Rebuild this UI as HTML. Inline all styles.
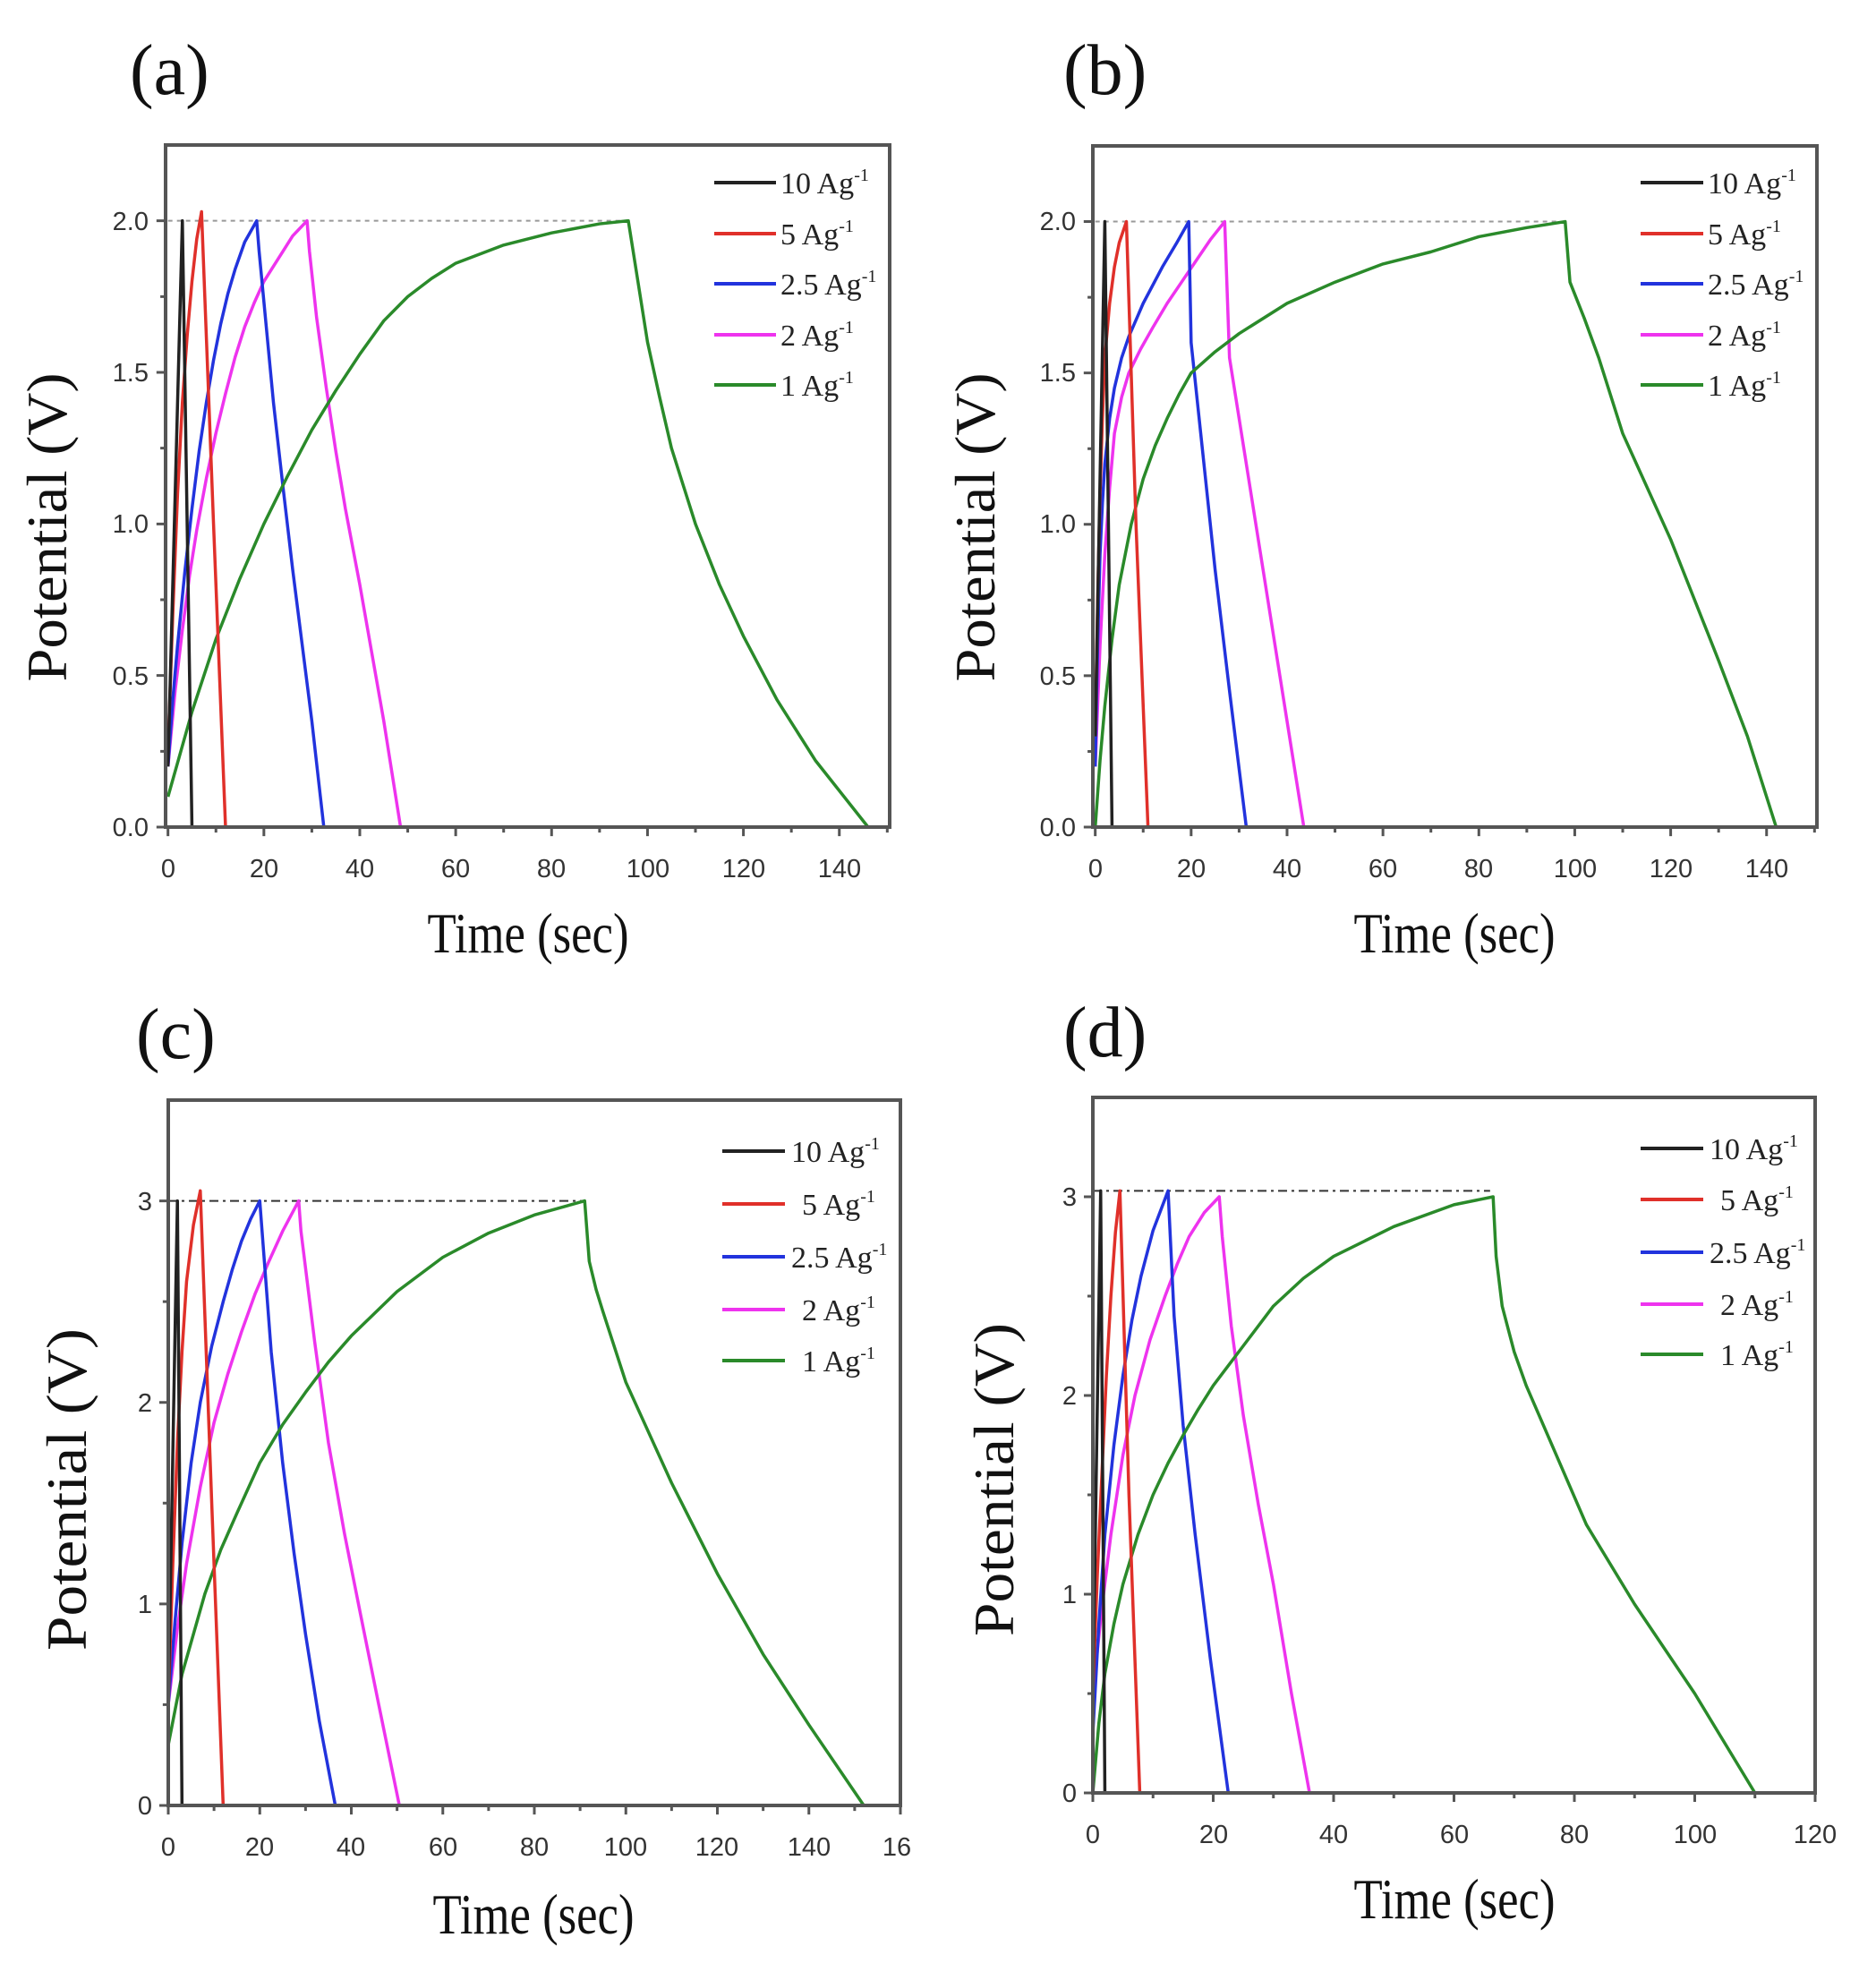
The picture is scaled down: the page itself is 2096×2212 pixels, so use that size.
<!DOCTYPE html>
<html><head><meta charset="utf-8"><style>
html,body{margin:0;padding:0;background:#fff}
svg{display:block}
.tk{font-family:"Liberation Sans",Arial,sans-serif;font-size:29px;fill:#333}
.lg{font-family:"Liberation Serif",serif;font-size:34px;fill:#222}
.sup{font-size:20px}
.ttl{font-family:"Liberation Serif",serif;font-size:64px;fill:#111}
.pl{font-family:"Liberation Serif",serif;font-size:80px;fill:#111}
.c{fill:none;stroke-width:3.5;vector-effect:non-scaling-stroke;stroke-linejoin:round}
.ax{fill:none;stroke:#555;stroke-width:3;vector-effect:non-scaling-stroke}
</style></head><body>
<svg width="2096" height="2212" viewBox="0 0 2096 2212" xmlns="http://www.w3.org/2000/svg">
<rect width="2096" height="2212" fill="#fff"/>

<text class="pl" x="145" y="105">(a)</text>
<text class="pl" x="1188" y="105">(b)</text>
<text class="pl" x="152" y="1182">(c)</text>
<text class="pl" x="1188" y="1180">(d)</text>

<!-- PANEL A -->
<svg x="185" y="162" width="809" height="762" viewBox="-0.5 -2.25 151 2.25" preserveAspectRatio="none" style="overflow:visible">
<path class="ax" d="M0 0 V0.03 M20 0 V0.03 M40 0 V0.03 M60 0 V0.03 M80 0 V0.03 M100 0 V0.03 M120 0 V0.03 M140 0 V0.03 M10 0 V0.018 M30 0 V0.018 M50 0 V0.018 M70 0 V0.018 M90 0 V0.018 M110 0 V0.018 M130 0 V0.018 M150 0 V0.018 M-0.5 0 H-2.4 M-0.5 -0.5 H-2.4 M-0.5 -1 H-2.4 M-0.5 -1.5 H-2.4 M-0.5 -2 H-2.4 M-0.5 -0.25 H-1.6 M-0.5 -0.75 H-1.6 M-0.5 -1.25 H-1.6 M-0.5 -1.75 H-1.6"/>
<path d="M0 -2 H97" fill="none" stroke="#999" stroke-width="2" stroke-dasharray="5 5" vector-effect="non-scaling-stroke"/>
<polyline class="c" stroke="#ee33ee" points="0,-0.2 1.5,-0.45 3,-0.65 4.5,-0.83 6,-0.98 8,-1.15 10,-1.3 12,-1.43 14,-1.55 16,-1.65 18,-1.73 20,-1.8 22,-1.85 24,-1.9 26,-1.95 29,-2 29.5,-1.9 31,-1.68 33,-1.45 35,-1.24 37,-1.05 40,-0.8 42,-0.62 45,-0.35 48.5,0"/>
<polyline class="c" stroke="#2233dd" points="0,-0.2 1,-0.42 2,-0.6 3.5,-0.84 5,-1.05 6.5,-1.24 8,-1.4 9.5,-1.54 11,-1.66 12.5,-1.76 14,-1.84 16,-1.93 18.5,-2 19,-1.9 20.5,-1.65 22,-1.4 24,-1.12 26,-0.85 28,-0.6 30,-0.35 32.5,0"/>
<polyline class="c" stroke="#2a8a2a" points="0,-0.1 5,-0.38 10,-0.62 15,-0.82 20,-1.0 25,-1.16 30,-1.31 35,-1.44 40,-1.56 45,-1.67 50,-1.75 55,-1.81 60,-1.86 70,-1.92 80,-1.96 90,-1.99 96,-2 97,-1.9 98,-1.8 100,-1.6 102.5,-1.42 105,-1.25 110,-1.0 115,-0.8 120,-0.63 127,-0.42 135,-0.22 146,0"/>
<polyline class="c" stroke="#e0302a" points="0,-0.25 1,-0.7 2,-1.1 3,-1.4 4,-1.62 5,-1.8 6,-1.94 7,-2.03 9.5,-1 12,0"/>
<polyline class="c" stroke="#222" points="0,-0.2 3,-2 5,0"/>
<rect x="-0.5" y="-2.25" width="151" height="2.25" class="ax" style="stroke-width:4"/>
</svg>
<g class="tk" text-anchor="middle">
<text x="188" y="980">0</text><text x="295" y="980">20</text><text x="402" y="980">40</text><text x="509" y="980">60</text><text x="616" y="980">80</text><text x="724" y="980">100</text><text x="831" y="980">120</text><text x="938" y="980">140</text>
</g>
<g class="tk" text-anchor="end">
<text x="166" y="934">0.0</text><text x="166" y="765">0.5</text><text x="166" y="595">1.0</text><text x="166" y="426">1.5</text><text x="166" y="257">2.0</text>
</g>
<g stroke-width="4">
<line x1="798" y1="204" x2="867" y2="204" stroke="#222"/>
<line x1="798" y1="261" x2="867" y2="261" stroke="#e0302a"/>
<line x1="798" y1="317" x2="867" y2="317" stroke="#2233dd"/>
<line x1="798" y1="374" x2="867" y2="374" stroke="#ee33ee"/>
<line x1="798" y1="430" x2="867" y2="430" stroke="#2a8a2a"/>
</g>
<g class="lg">
<text x="872" y="216">10 Ag<tspan class="sup" dy="-14">-1</tspan></text>
<text x="872" y="273">5 Ag<tspan class="sup" dy="-14">-1</tspan></text>
<text x="872" y="329">2.5 Ag<tspan class="sup" dy="-14">-1</tspan></text>
<text x="872" y="386">2 Ag<tspan class="sup" dy="-14">-1</tspan></text>
<text x="872" y="442">1 Ag<tspan class="sup" dy="-14">-1</tspan></text>
</g>
<text class="ttl" x="590" y="1064" text-anchor="middle" textLength="225" lengthAdjust="spacingAndGlyphs">Time (sec)</text>
<text class="ttl" transform="translate(74,589) rotate(-90)" text-anchor="middle" textLength="345" lengthAdjust="spacingAndGlyphs">Potential (V)</text>

<!-- PANEL B -->
<svg x="1221" y="163" width="809" height="761" viewBox="-0.5 -2.25 151 2.25" preserveAspectRatio="none" style="overflow:visible">
<path class="ax" d="M0 0 V0.03 M20 0 V0.03 M40 0 V0.03 M60 0 V0.03 M80 0 V0.03 M100 0 V0.03 M120 0 V0.03 M140 0 V0.03 M10 0 V0.018 M30 0 V0.018 M50 0 V0.018 M70 0 V0.018 M90 0 V0.018 M110 0 V0.018 M130 0 V0.018 M150 0 V0.018 M-0.5 0 H-2.4 M-0.5 -0.5 H-2.4 M-0.5 -1 H-2.4 M-0.5 -1.5 H-2.4 M-0.5 -2 H-2.4 M-0.5 -0.25 H-1.6 M-0.5 -0.75 H-1.6 M-0.5 -1.25 H-1.6 M-0.5 -1.75 H-1.6"/>
<path d="M0 -2 H98" fill="none" stroke="#999" stroke-width="2" stroke-dasharray="5 5" vector-effect="non-scaling-stroke"/>
<polyline class="c" stroke="#ee33ee" points="0,-0.2 1,-0.6 2,-0.9 3,-1.12 4,-1.3 5.5,-1.42 7,-1.5 9.5,-1.58 12,-1.65 15,-1.73 18,-1.8 21,-1.87 24,-1.94 27,-2 28,-1.55 31,-1.25 35,-0.85 39,-0.45 43.5,0"/>
<polyline class="c" stroke="#2233dd" points="0,-0.2 0.5,-0.6 1,-0.9 1.5,-1.07 2,-1.2 3,-1.35 4,-1.45 5.5,-1.55 7,-1.62 10,-1.73 14,-1.85 17,-1.93 19.5,-2 20,-1.6 22,-1.3 25,-0.85 28,-0.45 31.5,0"/>
<polyline class="c" stroke="#2a8a2a" points="0,0 1,-0.22 2,-0.4 3.5,-0.62 5,-0.8 7.5,-1.0 10,-1.15 12.5,-1.26 15,-1.35 17.5,-1.43 20,-1.5 25,-1.57 30,-1.63 40,-1.73 50,-1.8 60,-1.86 70,-1.9 80,-1.95 90,-1.98 98,-2 99,-1.8 102,-1.68 105,-1.55 110,-1.3 120,-0.95 130,-0.55 136,-0.3 142,0"/>
<polyline class="c" stroke="#e0302a" points="0,-0.3 0.5,-0.75 1,-1.1 1.5,-1.35 2,-1.55 3,-1.73 4,-1.85 5,-1.93 6.5,-2 8.5,-1 11,0"/>
<polyline class="c" stroke="#222" points="0,-0.3 2,-2 3.5,0"/>
<rect x="-0.5" y="-2.25" width="151" height="2.25" class="ax" style="stroke-width:4"/>
</svg>
<g class="tk" text-anchor="middle">
<text x="1224" y="980">0</text><text x="1331" y="980">20</text><text x="1438" y="980">40</text><text x="1545" y="980">60</text><text x="1652" y="980">80</text><text x="1760" y="980">100</text><text x="1867" y="980">120</text><text x="1974" y="980">140</text>
</g>
<g class="tk" text-anchor="end">
<text x="1202" y="934">0.0</text><text x="1202" y="765">0.5</text><text x="1202" y="595">1.0</text><text x="1202" y="426">1.5</text><text x="1202" y="257">2.0</text>
</g>
<g stroke-width="4">
<line x1="1833" y1="204" x2="1903" y2="204" stroke="#222"/>
<line x1="1833" y1="261" x2="1903" y2="261" stroke="#e0302a"/>
<line x1="1833" y1="317" x2="1903" y2="317" stroke="#2233dd"/>
<line x1="1833" y1="374" x2="1903" y2="374" stroke="#ee33ee"/>
<line x1="1833" y1="430" x2="1903" y2="430" stroke="#2a8a2a"/>
</g>
<g class="lg">
<text x="1908" y="216">10 Ag<tspan class="sup" dy="-14">-1</tspan></text>
<text x="1908" y="273">5 Ag<tspan class="sup" dy="-14">-1</tspan></text>
<text x="1908" y="329">2.5 Ag<tspan class="sup" dy="-14">-1</tspan></text>
<text x="1908" y="386">2 Ag<tspan class="sup" dy="-14">-1</tspan></text>
<text x="1908" y="442">1 Ag<tspan class="sup" dy="-14">-1</tspan></text>
</g>
<text class="ttl" x="1625" y="1064" text-anchor="middle" textLength="225" lengthAdjust="spacingAndGlyphs">Time (sec)</text>
<text class="ttl" transform="translate(1111,589) rotate(-90)" text-anchor="middle" textLength="345" lengthAdjust="spacingAndGlyphs">Potential (V)</text>

<!-- PANEL C -->
<svg x="188" y="1229" width="818" height="788" viewBox="0 -3.5 160 3.5" preserveAspectRatio="none" style="overflow:visible">
<path class="ax" d="M0 0 V0.045 M20 0 V0.045 M40 0 V0.045 M60 0 V0.045 M80 0 V0.045 M100 0 V0.045 M120 0 V0.045 M140 0 V0.045 M160 0 V0.045 M10 0 V0.027 M30 0 V0.027 M50 0 V0.027 M70 0 V0.027 M90 0 V0.027 M110 0 V0.027 M130 0 V0.027 M150 0 V0.027 M0 0 H-1.96 M0 -1 H-1.96 M0 -2 H-1.96 M0 -3 H-1.96 M0 -0.5 H-1.2 M0 -1.5 H-1.2 M0 -2.5 H-1.2"/>
<path d="M0 -3 H91" fill="none" stroke="#333" stroke-width="2" stroke-dasharray="10 5 3 5" vector-effect="non-scaling-stroke"/>
<polyline class="c" stroke="#ee33ee" points="0,-0.5 2,-0.88 4,-1.2 7,-1.58 10,-1.9 13,-2.14 16,-2.35 19,-2.54 22,-2.7 25,-2.85 28.5,-3 29,-2.85 32,-2.3 35,-1.8 38.5,-1.35 42,-0.95 46,-0.5 50.5,0"/>
<polyline class="c" stroke="#2233dd" points="0,-0.5 1.5,-0.92 3,-1.3 5,-1.7 7,-2.0 9.5,-2.28 12,-2.5 14,-2.66 16,-2.8 18,-2.91 20,-3 20.5,-2.85 22.5,-2.25 25,-1.7 27.5,-1.25 30,-0.85 33,-0.42 36.5,0"/>
<polyline class="c" stroke="#2a8a2a" points="0,-0.3 3,-0.65 8,-1.05 11.5,-1.27 15,-1.45 20,-1.7 25,-1.89 30,-2.05 35,-2.2 40,-2.33 50,-2.55 60,-2.72 70,-2.84 80,-2.93 91,-3 92,-2.7 93.5,-2.56 95,-2.45 100,-2.1 110,-1.6 120,-1.15 130,-0.75 140,-0.4 152,0"/>
<polyline class="c" stroke="#e0302a" points="0,-0.5 1,-1.2 2,-1.8 3,-2.25 4,-2.6 5.5,-2.88 7,-3.05 9.5,-1.5 12,0"/>
<polyline class="c" stroke="#222" points="0,-0.5 2,-3 3,0"/>
<rect x="0" y="-3.5" width="160" height="3.5" class="ax" style="stroke-width:4"/>
</svg>
<g class="tk" text-anchor="middle">
<text x="188" y="2073">0</text><text x="290" y="2073">20</text><text x="392" y="2073">40</text><text x="495" y="2073">60</text><text x="597" y="2073">80</text><text x="699" y="2073">100</text><text x="801" y="2073">120</text><text x="904" y="2073">140</text><text x="1002" y="2073">16</text>
</g>
<g class="tk" text-anchor="end">
<text x="170" y="2027">0</text><text x="170" y="1802">1</text><text x="170" y="1577">2</text><text x="170" y="1352">3</text>
</g>
<g stroke-width="4">
<line x1="807" y1="1286" x2="877" y2="1286" stroke="#222"/>
<line x1="807" y1="1345" x2="877" y2="1345" stroke="#e0302a"/>
<line x1="807" y1="1404" x2="877" y2="1404" stroke="#2233dd"/>
<line x1="807" y1="1463" x2="877" y2="1463" stroke="#ee33ee"/>
<line x1="807" y1="1520" x2="877" y2="1520" stroke="#2a8a2a"/>
</g>
<g class="lg">
<text x="884" y="1298">10 Ag<tspan class="sup" dy="-14">-1</tspan></text>
<text x="896" y="1357">5 Ag<tspan class="sup" dy="-14">-1</tspan></text>
<text x="884" y="1416">2.5 Ag<tspan class="sup" dy="-14">-1</tspan></text>
<text x="896" y="1475">2 Ag<tspan class="sup" dy="-14">-1</tspan></text>
<text x="896" y="1532">1 Ag<tspan class="sup" dy="-14">-1</tspan></text>
</g>
<text class="ttl" x="596" y="2160" text-anchor="middle" textLength="225" lengthAdjust="spacingAndGlyphs">Time (sec)</text>
<text class="ttl" transform="translate(96,1664) rotate(-90)" text-anchor="middle" textLength="360" lengthAdjust="spacingAndGlyphs">Potential (V)</text>

<!-- PANEL D -->
<svg x="1221" y="1226" width="807" height="777" viewBox="0 -3.5 120 3.5" preserveAspectRatio="none" style="overflow:visible">
<path class="ax" d="M0 0 V0.045 M20 0 V0.045 M40 0 V0.045 M60 0 V0.045 M80 0 V0.045 M100 0 V0.045 M120 0 V0.045 M10 0 V0.027 M30 0 V0.027 M50 0 V0.027 M70 0 V0.027 M90 0 V0.027 M110 0 V0.027 M0 0 H-1.49 M0 -1 H-1.49 M0 -2 H-1.49 M0 -3 H-1.49 M0 -0.5 H-0.9 M0 -1.5 H-0.9 M0 -2.5 H-0.9"/>
<path d="M0 -3.03 H66" fill="none" stroke="#333" stroke-width="2" stroke-dasharray="10 5 3 5" vector-effect="non-scaling-stroke"/>
<polyline class="c" stroke="#ee33ee" points="0,-0.5 1.5,-0.93 3,-1.3 5,-1.7 7,-2.0 9.5,-2.28 12,-2.5 14,-2.66 16,-2.8 18.5,-2.92 21,-3 21.5,-2.8 23,-2.35 25,-1.9 27.5,-1.45 30,-1.05 33,-0.5 36,0"/>
<polyline class="c" stroke="#2233dd" points="0,-0.3 1,-0.85 2,-1.3 3.5,-1.75 5,-2.1 6.5,-2.38 8,-2.6 10,-2.83 12.5,-3.03 13.5,-2.4 15,-1.85 17,-1.3 19.5,-0.68 22.5,0"/>
<polyline class="c" stroke="#2a8a2a" points="0,0 1,-0.35 2,-0.6 3.5,-0.85 5,-1.05 7.5,-1.3 10,-1.5 12.5,-1.66 15,-1.8 17.5,-1.93 20,-2.05 25,-2.25 30,-2.45 35,-2.59 40,-2.7 50,-2.85 60,-2.96 66.5,-3 67,-2.7 68,-2.45 70,-2.22 72,-2.05 77,-1.7 82,-1.35 90,-0.95 100,-0.5 110,0"/>
<polyline class="c" stroke="#e0302a" points="0,-0.5 0.75,-1.1 1.5,-1.6 2.25,-2.1 3,-2.5 3.75,-2.82 4.5,-3.03 6,-1.5 7.8,0"/>
<polyline class="c" stroke="#222" points="0,-0.5 1.3,-3.03 2,0"/>
<rect x="0" y="-3.5" width="120" height="3.5" class="ax" style="stroke-width:4"/>
</svg>
<g class="tk" text-anchor="middle">
<text x="1221" y="2059">0</text><text x="1356" y="2059">20</text><text x="1490" y="2059">40</text><text x="1625" y="2059">60</text><text x="1759" y="2059">80</text><text x="1894" y="2059">100</text><text x="2028" y="2059">120</text>
</g>
<g class="tk" text-anchor="end">
<text x="1203" y="2013">0</text><text x="1203" y="1791">1</text><text x="1203" y="1569">2</text><text x="1203" y="1347">3</text>
</g>
<g stroke-width="4">
<line x1="1833" y1="1283" x2="1903" y2="1283" stroke="#222"/>
<line x1="1833" y1="1340" x2="1903" y2="1340" stroke="#e0302a"/>
<line x1="1833" y1="1399" x2="1903" y2="1399" stroke="#2233dd"/>
<line x1="1833" y1="1457" x2="1903" y2="1457" stroke="#ee33ee"/>
<line x1="1833" y1="1513" x2="1903" y2="1513" stroke="#2a8a2a"/>
</g>
<g class="lg">
<text x="1910" y="1295">10 Ag<tspan class="sup" dy="-14">-1</tspan></text>
<text x="1922" y="1352">5 Ag<tspan class="sup" dy="-14">-1</tspan></text>
<text x="1910" y="1411">2.5 Ag<tspan class="sup" dy="-14">-1</tspan></text>
<text x="1922" y="1469">2 Ag<tspan class="sup" dy="-14">-1</tspan></text>
<text x="1922" y="1525">1 Ag<tspan class="sup" dy="-14">-1</tspan></text>
</g>
<text class="ttl" x="1625" y="2143" text-anchor="middle" textLength="225" lengthAdjust="spacingAndGlyphs">Time (sec)</text>
<text class="ttl" transform="translate(1132,1653) rotate(-90)" text-anchor="middle" textLength="350" lengthAdjust="spacingAndGlyphs">Potential (V)</text>
</svg>
</body></html>
